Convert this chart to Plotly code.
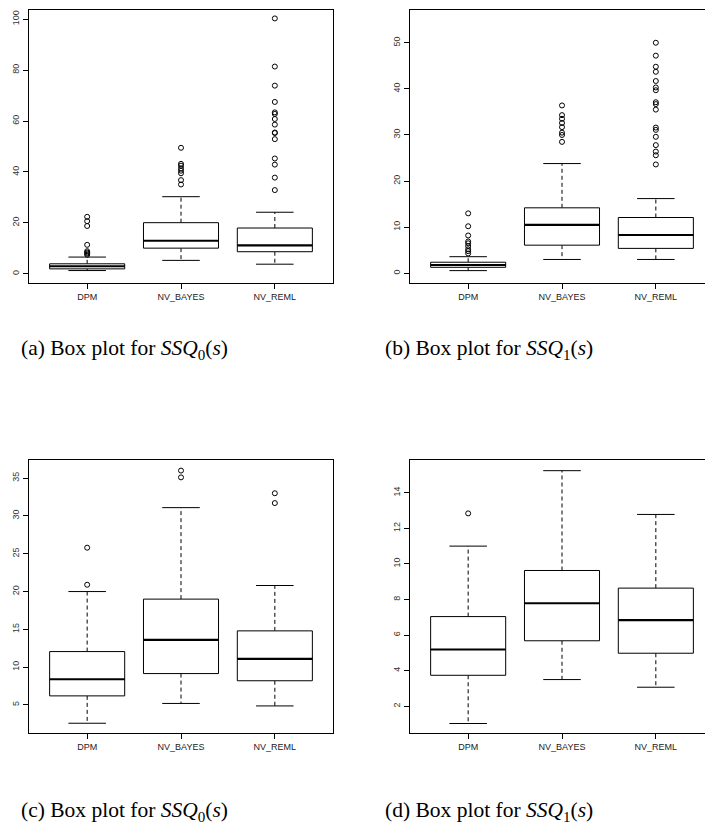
import plotly.graph_objects as go

# ---------------- data ----------------
categories = ["DPM", "NV_BAYES", "NV_REML"]

# panel (a): SSQ0, set 1
a_low = [1.3, 5.3, 3.8]
a_q1 = [1.97, 10.1, 8.7]
a_med = [3.0, 13.0, 11.2]
a_q3 = [3.95, 20.1, 18.0]
a_high = [6.6, 30.3, 24.2]
a_out = [
    [7.5, 8.0, 8.4, 8.9, 11.4, 18.8, 20.7, 22.4],
    [35.1, 36.8, 39.5, 40.5, 41.4, 42.5, 43.2, 49.5],
    [32.9, 37.8, 42.9, 45.3, 52.9, 55.3, 55.5, 58.6, 60.8, 62.8, 63.4, 67.5, 73.9, 81.4, 100.3],
]
a_ticks = [0, 20, 40, 60, 80, 100]

# panel (b): SSQ1, set 1
b_low = [0.58, 3.0, 3.0]
b_q1 = [1.3, 6.1, 5.4]
b_med = [1.8, 10.5, 8.3]
b_q3 = [2.4, 14.2, 12.1]
b_high = [3.6, 23.8, 16.2]
b_out = [
    [4.3, 4.8, 5.2, 5.9, 6.5, 6.9, 8.2, 10.2, 13.0],
    [28.5, 30.0, 30.5, 31.7, 32.6, 33.5, 34.3, 36.4],
    [23.6, 25.6, 26.4, 27.8, 29.6, 31.1, 31.6, 35.5, 36.7, 37.1, 39.7, 40.3, 41.7, 43.7, 44.8, 47.2, 50.0],
]
b_ticks = [0, 10, 20, 30, 40, 50]

# panel (c): SSQ0, set 2
c_low = [2.58, 5.2, 4.87]
c_q1 = [6.2, 9.15, 8.2]
c_med = [8.4, 13.6, 11.1]
c_q3 = [12.06, 19.0, 14.8]
c_high = [20.0, 31.1, 20.8]
c_out = [
    [20.9, 25.8],
    [35.1, 36.0],
    [31.7, 33.0],
]
c_ticks = [5, 10, 15, 20, 25, 30, 35]

# panel (d): SSQ1, set 2
d_low = [1.03, 3.5, 3.07]
d_q1 = [3.74, 5.68, 4.98]
d_med = [5.19, 7.79, 6.84]
d_q3 = [7.04, 9.63, 8.64]
d_high = [11.0, 15.24, 12.78]
d_out = [
    [12.84],
    [],
    [],
]
d_ticks = [2, 4, 6, 8, 10, 12, 14]

captions = [
    "(a) Box plot for <i>SSQ</i><sub>0</sub>(<i>s</i>)",
    "(b) Box plot for <i>SSQ</i><sub>1</sub>(<i>s</i>)",
    "(c) Box plot for <i>SSQ</i><sub>0</sub>(<i>s</i>)",
    "(d) Box plot for <i>SSQ</i><sub>1</sub>(<i>s</i>)",
]

# ---------------- layout helpers ----------------
W, H = 705, 831
BOXW = 0.4   # half box width (R default 0.8)
STAP = 0.2   # half staple width

panels = [
    dict(low=a_low, q1=a_q1, med=a_med, q3=a_q3, high=a_high, out=a_out, ticks=a_ticks,
         xpx=(29, 333), ypx=(10, 283.3), yrange=[-3.7, 103.6], right=True),
    dict(low=b_low, q1=b_q1, med=b_med, q3=b_q3, high=b_high, out=b_out, ticks=b_ticks,
         xpx=(410, 714), ypx=(10, 283.3), yrange=[-2.17, 57.1], right=False),
    dict(low=c_low, q1=c_q1, med=c_med, q3=c_q3, high=c_high, out=c_out, ticks=c_ticks,
         xpx=(29, 333), ypx=(460, 733.3), yrange=[1.25, 37.4], right=True),
    dict(low=d_low, q1=d_q1, med=d_med, q3=d_q3, high=d_high, out=d_out, ticks=d_ticks,
         xpx=(410, 714), ypx=(460, 733.3), yrange=[0.48, 15.84], right=False),
]

fig = go.Figure()
layout = dict(
    width=W, height=H, margin=dict(l=0, r=0, t=0, b=0),
    paper_bgcolor="white", plot_bgcolor="white", showlegend=False,
)

XLO, XHI = 0.38, 3.62
for k, p in enumerate(panels):
    n = k + 1
    xa = "x" if n == 1 else f"x{n}"
    ya = "y" if n == 1 else f"y{n}"
    x0, x1 = p["xpx"]
    unit = (x1 - x0) / (XHI - XLO)
    vis_x1 = min(x1, W)
    xr = [XLO, XLO + (vis_x1 - x0) / unit]
    xdom = [x0 / W, vis_x1 / W]
    ydom = [1 - p["ypx"][1] / H, 1 - p["ypx"][0] / H]

    bx, by, mx, my, wx, wy, sx, sy, ox, oy = [], [], [], [], [], [], [], [], [], []
    for i in range(3):
        c = i + 1
        bx += [c - BOXW, c + BOXW, c + BOXW, c - BOXW, c - BOXW, None]
        by += [p["q1"][i], p["q1"][i], p["q3"][i], p["q3"][i], p["q1"][i], None]
        mx += [c - BOXW, c + BOXW, None]
        my += [p["med"][i], p["med"][i], None]
        wx += [c, c, None, c, c, None]
        wy += [p["q3"][i], p["high"][i], None, p["q1"][i], p["low"][i], None]
        sx += [c - STAP, c + STAP, None, c - STAP, c + STAP, None]
        sy += [p["high"][i], p["high"][i], None, p["low"][i], p["low"][i], None]
        for v in p["out"][i]:
            ox.append(c)
            oy.append(v)

    common = dict(xaxis=xa, yaxis=ya, hoverinfo="skip", showlegend=False)
    fig.add_trace(go.Scatter(x=wx, y=wy, mode="lines",
                             line=dict(color="black", width=1, dash="4px,3px"), **common))
    fig.add_trace(go.Scatter(x=sx, y=sy, mode="lines",
                             line=dict(color="black", width=1), **common))
    fig.add_trace(go.Scatter(x=bx, y=by, mode="lines", fill="toself", fillcolor="white",
                             line=dict(color="black", width=1), **common))
    fig.add_trace(go.Scatter(x=mx, y=my, mode="lines",
                             line=dict(color="black", width=2.2), **common))
    fig.add_trace(go.Scatter(x=ox, y=oy, mode="markers",
                             marker=dict(symbol="circle-open", size=5, color="black",
                                         line=dict(width=1, color="black")), **common))

    key_x = "xaxis" if n == 1 else f"xaxis{n}"
    key_y = "yaxis" if n == 1 else f"yaxis{n}"
    layout[key_x] = dict(
        domain=xdom, range=xr, anchor=ya, showgrid=False, zeroline=False,
        tickmode="array", tickvals=[1, 2, 3], ticktext=categories,
        ticks="outside", ticklen=5, tickcolor="black", tickwidth=1,
        showline=True, linecolor="black", linewidth=1, mirror=True,
        tickfont=dict(family="Liberation Sans, Arial", size=9, color="#222"),
    )
    layout[key_y] = dict(
        domain=ydom, range=p["yrange"], anchor=xa, showgrid=False, zeroline=False,
        tickmode="array", tickvals=p["ticks"], ticktext=[str(t) for t in p["ticks"]],
        ticks="outside", ticklen=5, tickcolor="black", tickwidth=1, tickangle=-90,
        showline=True, linecolor="black", linewidth=1, mirror=p["right"],
        tickfont=dict(family="Liberation Sans, Arial", size=9, color="#333"),
    )

cap_pos = [(124, 349), (489, 349), (124, 811), (489, 811)]
anns = []
for (cx, cy), txt in zip(cap_pos, captions):
    anns.append(dict(x=cx / W, y=1 - cy / H, xref="paper", yref="paper",
                     text=txt, showarrow=False, xanchor="center", yanchor="middle",
                     font=dict(family="Liberation Serif, serif", size=21.5, color="black")))
layout["annotations"] = anns

fig.update_layout(**layout)
fig.write_html("out.html")
